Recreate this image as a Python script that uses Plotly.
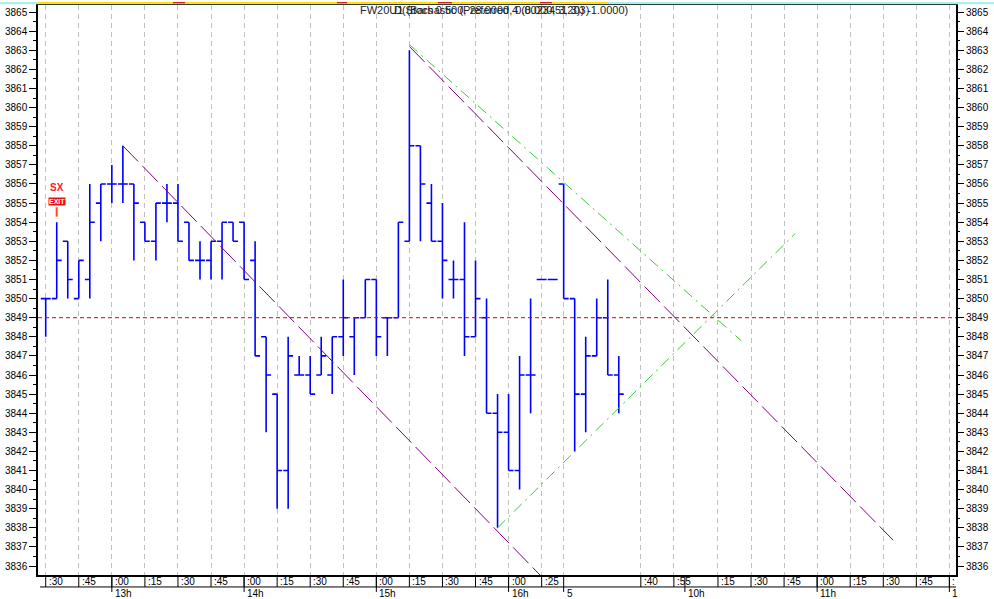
import plotly.graph_objects as go

# ---------------- data ----------------
bar_index = list(range(53))
opens  = [3850, 3850, 3853, 3850, 3851, 3855, 3856, 3856, 3856, 3854,
          3853, 3855, 3855, 3854, 3852, 3852, 3853, 3854, 3854, 3852,
          3848, 3845, 3841, 3846, 3846, 3846, 3846, 3848, 3848, 3849,
          3851, 3849, 3849, 3853, 3858, 3855, 3853, 3851, 3851, 3848,
          3849, 3844, 3843, 3841, 3846, 3851, 3851, 3856, 3850, 3845,
          3847, 3849, 3846]
highs  = [3850, 3854, 3853, 3852, 3856, 3856, 3857, 3858, 3856, 3854,
          3855, 3856, 3856, 3854, 3853, 3853, 3854, 3854, 3854, 3853,
          3848, 3845, 3848, 3847, 3847, 3848, 3848, 3851, 3849, 3851,
          3851, 3849, 3854, 3863, 3858, 3856, 3855, 3852, 3854, 3852,
          3850, 3845, 3845, 3847, 3850, 3851, 3851, 3856, 3850, 3848,
          3850, 3851, 3847]
lows   = [3848, 3850, 3850, 3850, 3850, 3853, 3855, 3855, 3852, 3853,
          3852, 3854, 3853, 3852, 3851, 3851, 3851, 3853, 3851, 3847,
          3843, 3839, 3839, 3846, 3845, 3846, 3845, 3847, 3846, 3849,
          3847, 3847, 3849, 3853, 3853, 3853, 3850, 3850, 3847, 3848,
          3844, 3838, 3841, 3840, 3844, 3851, 3851, 3850, 3842, 3843,
          3847, 3846, 3844]
closes = [3850, 3852, 3851, 3852, 3854, 3856, 3856, 3856, 3855, 3853,
          3855, 3855, 3853, 3852, 3852, 3853, 3854, 3853, 3851, 3847,
          3846, 3841, 3847, 3846, 3845, 3847, 3848, 3849, 3849, 3851,
          3848, 3849, 3854, 3858, 3856, 3853, 3852, 3851, 3848, 3850,
          3844, 3843, 3841, 3846, 3846, 3851, 3851, 3850, 3845, 3847,
          3849, 3846, 3845]

# drawn trend lines (bar index, price)
channel_upper_x = [33, 76.9]
channel_upper_y = [3863.2, 3837.35]
channel_lower_x = [7, 44.9]
channel_lower_y = [3858.0, 3835.5]
green_down_x = [33, 63.1]
green_down_y = [3863.3, 3847.8]
green_up_x = [41, 68.0]
green_up_y = [3838.0, 3853.4]
ref_level = 3849

y_ticks = list(range(3836, 3866))
grid_idx = [0, 3, 6, 9, 12, 15, 18, 21, 24, 27, 30, 33, 36, 39, 42, 45, 47,
            54, 57, 61, 64, 67, 70, 73, 76, 79, 82]
minute_idx = [0, 3, 6, 9, 12, 15, 18, 21, 24, 27, 30, 33, 36, 39, 42, 45,
              54, 57, 61, 64, 67, 70, 73, 76, 79, 82]
minute_lbl = [":30", ":45", ":00", ":15", ":30", ":45", ":00", ":15", ":30",
              ":45", ":00", ":15", ":30", ":45", ":00", ":25",
              ":40", ":55", ":15", ":30", ":45", ":00", ":15", ":30", ":45", ":"]
hour_idx = [6, 18, 30, 42, 47, 58, 70, 82]
hour_lbl = ["13h", "14h", "15h", "16h", "5", "10h", "11h", "1"]

signal_idx = 1
signal_label = "SX"
signal_price = 3855.8

title_a = "FW20U1 (Bars 0.500, 28.0000, 0.0023451203)"
title_b = "D(Stochastic (Preferred 4 (8.000, 3, 3)) -1.0000)"

# ---------------- geometry ----------------
W, H = 994, 599
ML, MR, MT, MB = 38, 38, 3, 24
PW, PH = W - ML - MR, H - MT - MB
X_RANGE = [-0.70, 82.60]
Y_RANGE = [3835.53, 3865.37]
FONT = "Liberation Sans, Arial, sans-serif"


def px_x(px):
    return (px - ML) / PW


def px_y(py):
    return (H - MB - py) / PH


fig = go.Figure()

fig.add_trace(go.Ohlc(
    x=bar_index, open=opens, high=highs, low=lows, close=closes,
    increasing=dict(line=dict(color="#0000ff", width=1.6)),
    decreasing=dict(line=dict(color="#0000ff", width=1.6)),
    tickwidth=0.45, hoverinfo="skip", showlegend=False))

fig.add_trace(go.Scatter(x=channel_lower_x, y=channel_lower_y, mode="lines",
                         line=dict(color="#800080", width=1, dash="22px,6px"),
                         showlegend=False, hoverinfo="skip"))
fig.add_trace(go.Scatter(x=channel_upper_x, y=channel_upper_y, mode="lines",
                         line=dict(color="#800080", width=1, dash="22px,6px"),
                         showlegend=False, hoverinfo="skip"))
fig.add_trace(go.Scatter(x=green_down_x, y=green_down_y, mode="lines",
                         line=dict(color="#33cc33", width=1, dash="11px,5px,2px,5px"),
                         showlegend=False, hoverinfo="skip"))
fig.add_trace(go.Scatter(x=green_up_x, y=green_up_y, mode="lines",
                         line=dict(color="#33cc33", width=1, dash="11px,5px,2px,5px"),
                         showlegend=False, hoverinfo="skip"))
# dummy for right axis
fig.add_trace(go.Scatter(x=[None], y=[None], yaxis="y2", showlegend=False))

shapes = []
# reference level
shapes.append(dict(type="line", xref="paper", yref="y", x0=0, x1=1,
                   y0=ref_level, y1=ref_level,
                   line=dict(color="#dd0000", width=1, dash="4px,3px")))
# bottom axis second row separator
shapes.append(dict(type="line", xref="paper", yref="paper", x0=px_x(40), x1=1,
                   y0=px_y(587), y1=px_y(587), line=dict(color="black", width=1)))
for i in minute_idx:
    shapes.append(dict(type="line", xref="x", yref="paper", x0=i, x1=i,
                       y0=0, y1=px_y(587), line=dict(color="black", width=1)))
for i in hour_idx:
    shapes.append(dict(type="line", xref="x", yref="paper", x0=i, x1=i,
                       y0=0, y1=px_y(592), line=dict(color="black", width=1)))
# top status strip
shapes.append(dict(type="rect", xref="paper", yref="paper", x0=px_x(0), x1=px_x(W),
                   y0=px_y(2.2), y1=px_y(0), fillcolor="#aaeeee", line=dict(width=0)))
shapes.append(dict(type="rect", xref="paper", yref="paper", x0=px_x(38), x1=px_x(608),
                   y0=px_y(1.3), y1=px_y(0), fillcolor="#ffd800", line=dict(width=0)))
for a, b in [(173, 185), (337, 347), (438, 452), (540, 552)]:
    shapes.append(dict(type="rect", xref="paper", yref="paper", x0=px_x(a), x1=px_x(b),
                       y0=px_y(1.3), y1=px_y(0), fillcolor="#dd2200", line=dict(width=0)))
# signal marker bar
shapes.append(dict(type="rect", xref="x", yref="y", x0=signal_idx - 0.08, x1=signal_idx + 0.08,
                   y0=signal_price - 1.5, y1=signal_price - 1.02,
                   fillcolor="#ff3030", line=dict(color="#ffaa00", width=0.5)))

annotations = []
for i, t in zip(minute_idx, minute_lbl):
    annotations.append(dict(x=i, y=px_y(581.5), xref="x", yref="paper", text=t,
                            showarrow=False, xanchor="left", yanchor="middle", xshift=1,
                            font=dict(family=FONT, size=10, color="black")))
for i, t in zip(hour_idx, hour_lbl):
    annotations.append(dict(x=i, y=px_y(593.5), xref="x", yref="paper", text=t,
                            showarrow=False, xanchor="left", yanchor="middle", xshift=1,
                            font=dict(family=FONT, size=10, color="black")))
# signal text
annotations.append(dict(x=signal_idx, y=signal_price, xref="x", yref="y", text="<b>" + signal_label + "</b>",
                        showarrow=False, xanchor="center", yanchor="middle",
                        font=dict(family=FONT, size=10, color="#ff2020")))
annotations.append(dict(x=signal_idx, y=signal_price - 0.7, xref="x", yref="y", text="<b>EXIT</b>",
                        showarrow=False, xanchor="center", yanchor="middle",
                        bgcolor="#ee1111", borderpad=0,
                        font=dict(family=FONT, size=7, color="white")))
# overlapping title texts (as in the reference)
annotations.append(dict(x=px_x(358), y=px_y(8.5), xref="paper", yref="paper",
                        text=title_a, showarrow=False, xanchor="left", yanchor="middle",
                        font=dict(family=FONT, size=11, color="#222222")))
annotations.append(dict(x=px_x(392), y=px_y(8.5), xref="paper", yref="paper",
                        text=title_b, showarrow=False, xanchor="left", yanchor="middle",
                        font=dict(family=FONT, size=11, color="#222222")))

fig.update_layout(
    width=W, height=H,
    margin=dict(l=ML, r=MR, t=MT, b=MB, pad=0),
    paper_bgcolor="white", plot_bgcolor="white",
    showlegend=False,
    shapes=shapes, annotations=annotations,
    xaxis=dict(range=X_RANGE, rangeslider=dict(visible=False),
               tickmode="array", tickvals=grid_idx, showticklabels=False, ticks="",
               showgrid=True, gridcolor="#c0c0c0", griddash="5px,4px", gridwidth=1,
               zeroline=False, showline=True, linecolor="black", linewidth=1.5, mirror=True,
               fixedrange=True),
    yaxis=dict(range=Y_RANGE, tickmode="array", tickvals=y_ticks, side="left",
               ticks="outside", ticklen=7, tickwidth=1, tickcolor="black",
               minor=dict(dtick=0.5, tick0=3836, ticks="outside", ticklen=3, tickcolor="black"),
               showgrid=False, zeroline=False, showline=True, linecolor="black", linewidth=1.5,
               mirror=True, tickfont=dict(family=FONT, size=10, color="black"),
               fixedrange=True),
    yaxis2=dict(range=Y_RANGE, overlaying="y", side="right", tickmode="array", tickvals=y_ticks,
                ticks="outside", ticklen=7, tickwidth=1, tickcolor="black",
                minor=dict(dtick=0.5, tick0=3836, ticks="outside", ticklen=3, tickcolor="black"),
                showgrid=False, zeroline=False, showline=False,
                tickfont=dict(family=FONT, size=10, color="black"), fixedrange=True),
)

fig.write_html("out.html", config={"displayModeBar": False},
               post_script="document.body.style.margin='0px';document.body.style.overflow='hidden';")
